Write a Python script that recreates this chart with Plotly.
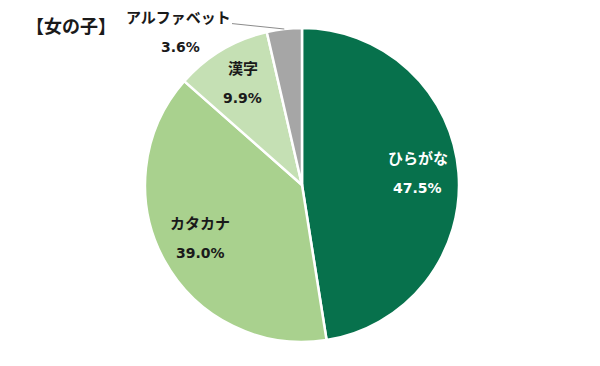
import numpy as np
import plotly.graph_objects as go

labels = ["ひらがな", "カタカナ", "漢字", "アルファベット"]
values = [47.5, 39.0, 9.9, 3.6]
colors = ["#07714C", "#A9D18E", "#C5E0B4", "#A6A6A6"]
text_colors = ["#FFFFFF", "#1A1A1A", "#1A1A1A", "#1A1A1A"]
title_text = "【女の子】"

font_family = "DejaVu Sans, Noto Sans CJK JP, sans-serif"
W, H = 600, 366
OFF = 8  # page body margin offset
cx, cy, R = 302.0 - OFF, 185.0 - OFF, 157.0  # pie centre / radius in pixels (layout)

dom_x = [(cx - R) / W, (cx + R) / W]
dom_y = [1 - (cy + R) / H, 1 - (cy - R) / H]

fig = go.Figure(go.Pie(
    labels=labels,
    values=values,
    sort=False,
    direction="clockwise",
    rotation=0,
    marker=dict(colors=colors, line=dict(color="#FFFFFF", width=2.5)),
    textinfo="none",
    hoverinfo="label+percent",
    domain=dict(x=dom_x, y=dom_y),
    showlegend=False,
))

total = float(sum(values))
cum = np.concatenate([[0.0], np.cumsum(values)[:-1]])
mid = 2 * np.pi * (cum + np.array(values) / 2) / total  # clockwise from top

GAP = 14.5  # half distance between label line and value line (px)
DY = -2.0   # small vertical nudge of inside label blocks (px)
r_in = 0.74 * R
for i in range(3):
    bx = cx + r_in * np.sin(mid[i])
    by = cy - r_in * np.cos(mid[i]) + DY
    fig.add_annotation(
        x=bx / W, y=1 - (by - GAP) / H, xref="paper", yref="paper",
        xanchor="center", yanchor="middle",
        text="<b>" + labels[i] + "</b>", showarrow=False,
        font=dict(size=15, color=text_colors[i], family=font_family),
    )
    fig.add_annotation(
        x=bx / W, y=1 - (by + GAP) / H, xref="paper", yref="paper",
        xanchor="center", yanchor="middle",
        text="<b>%.1f%%</b>" % values[i], showarrow=False,
        font=dict(size=14, color=text_colors[i], family=font_family),
    )

# outside label with leader line to the rim of the small slice
tx = cx + R * np.sin(mid[3])
ty = cy - R * np.cos(mid[3])
lab_x, lab_y = 178.0 - OFF, 18.0 - OFF
fig.add_annotation(
    x=tx / W, y=1 - ty / H, xref="paper", yref="paper",
    xanchor="center", yanchor="middle",
    text="<b>" + labels[3] + "</b>",
    showarrow=True, arrowhead=0, arrowwidth=1, arrowcolor="#8C8C8C",
    ax=lab_x - tx, ay=lab_y - ty, standoff=0,
    font=dict(size=15, color="#1A1A1A", family=font_family),
)
fig.add_annotation(
    x=(180 - OFF) / W, y=1 - (47 - OFF) / H, xref="paper", yref="paper",
    xanchor="center", yanchor="middle",
    text="<b>%.1f%%</b>" % values[3], showarrow=False,
    font=dict(size=14, color="#1A1A1A", family=font_family),
)
fig.add_annotation(
    x=(24 - OFF) / W, y=1 - (27 - OFF) / H, xref="paper", yref="paper",
    xanchor="left", yanchor="middle",
    text="<b>" + title_text + "</b>", showarrow=False,
    font=dict(size=18, color="#1A1A1A", family=font_family),
)

fig.update_layout(
    width=W, height=H,
    margin=dict(l=0, r=0, t=0, b=0),
    paper_bgcolor="#FFFFFF",
    plot_bgcolor="#FFFFFF",
)

fig.write_html("out.html")
